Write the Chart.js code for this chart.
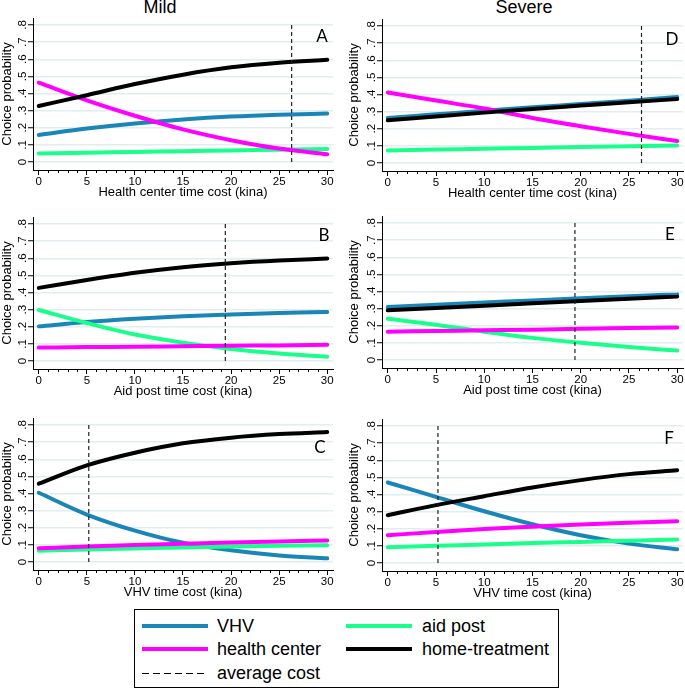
<!DOCTYPE html>
<html>
<head>
<meta charset="utf-8">
<script src="https://cdn.jsdelivr.net/npm/chart.js@4.4.0/dist/chart.umd.min.js"></script>
<style>
  html, body { margin: 0; padding: 0; background: #fff; }
  #wrap { position: relative; width: 685px; height: 690px; overflow: hidden; font-family: 'Liberation Sans', Arial, sans-serif; color: #000; }
  canvas { position: absolute; }
  .col-title { position: absolute; top: -2px; font-size: 18px; line-height: 18px; transform: translateX(-50%); white-space: nowrap; }
  .letter { position: absolute; font-family: Lato, 'Open Sans', sans-serif; font-size: 17px; line-height: 17px; transform: translate(-50%, -50%); }
  #legend { position: absolute; left: 134px; top: 609px; width: 425px; height: 79px; border: 1px solid #000; box-sizing: border-box; }
  #legend .sample { position: absolute; width: 66px; height: 0; }
  #legend .label { position: absolute; font-size: 18px; line-height: 18px; white-space: nowrap; }
</style>
</head>
<body>
<div id="wrap">
  <div class="col-title" style="left:160px">Mild</div>
  <div class="col-title" style="left:524px">Severe</div>
  <canvas id="pA" width="340" height="200" style="left:0;top:0"></canvas>
  <canvas id="pB" width="340" height="200" style="left:0;top:199px"></canvas>
  <canvas id="pC" width="340" height="200" style="left:0;top:400px"></canvas>
  <canvas id="pD" width="345" height="200" style="left:340px;top:1px"></canvas>
  <canvas id="pE" width="345" height="200" style="left:340px;top:198px"></canvas>
  <canvas id="pF" width="345" height="200" style="left:340px;top:401px"></canvas>
  <div id="letters"></div>
  <div id="legend"></div>
</div>
<script>
// ---- data ----
const costSteps = [0, 5, 10, 15, 20, 25, 30];
const xTickValues = [0, 5, 10, 15, 20, 25, 30];
const yTickValues = [0, 0.1, 0.2, 0.3, 0.4, 0.5, 0.6, 0.7, 0.8];
const yTickLabels = ['0', '.1', '.2', '.3', '.4', '.5', '.6', '.7', '.8'];

const seriesNames = ['VHV', 'aid post', 'health center', 'home-treatment'];
const seriesColors = ['#1a86b8', '#1aff8c', '#ff00ff', '#000000'];

// A: mild, health center cost
const vhvA  = [0.158, 0.195, 0.225, 0.248, 0.265, 0.276, 0.283];
const aidA  = [0.049, 0.054, 0.058, 0.063, 0.067, 0.072, 0.076];
const hcA   = [0.463, 0.360, 0.270, 0.190, 0.127, 0.078, 0.045];
const homeA = [0.327, 0.390, 0.455, 0.510, 0.553, 0.580, 0.597];
// B: mild, aid post cost
const vhvB  = [0.202, 0.227, 0.246, 0.261, 0.272, 0.280, 0.286];
const aidB  = [0.298, 0.222, 0.155, 0.107, 0.070, 0.044, 0.025];
const hcB   = [0.078, 0.081, 0.083, 0.086, 0.089, 0.091, 0.094];
const homeB = [0.427, 0.473, 0.515, 0.548, 0.571, 0.587, 0.598];
// C: mild, VHV cost
const vhvC  = [0.404, 0.277, 0.183, 0.112, 0.068, 0.038, 0.021];
const aidC  = [0.066, 0.073, 0.079, 0.085, 0.090, 0.094, 0.098];
const hcC   = [0.080, 0.090, 0.099, 0.107, 0.114, 0.120, 0.125];
const homeC = [0.457, 0.564, 0.638, 0.693, 0.726, 0.747, 0.759];
// D: severe, health center cost
const vhvD  = [0.263, 0.284, 0.305, 0.325, 0.344, 0.364, 0.385];
const aidD  = [0.073, 0.078, 0.083, 0.088, 0.093, 0.098, 0.102];
const hcD   = [0.412, 0.365, 0.318, 0.263, 0.215, 0.170, 0.128];
const homeD = [0.249, 0.272, 0.294, 0.315, 0.335, 0.355, 0.373];
// E: severe, aid post cost
const vhvE  = [0.310, 0.322, 0.335, 0.348, 0.360, 0.372, 0.384];
const aidE  = [0.241, 0.206, 0.165, 0.129, 0.100, 0.075, 0.055];
const hcE   = [0.165, 0.169, 0.173, 0.177, 0.182, 0.186, 0.190];
const homeE = [0.290, 0.303, 0.317, 0.331, 0.345, 0.358, 0.371];
// F: severe, VHV cost
const vhvF  = [0.470, 0.386, 0.302, 0.226, 0.162, 0.113, 0.080];
const aidF  = [0.092, 0.100, 0.108, 0.116, 0.123, 0.130, 0.137];
const hcF   = [0.162, 0.181, 0.198, 0.212, 0.225, 0.235, 0.244];
const homeF = [0.279, 0.338, 0.390, 0.441, 0.484, 0.519, 0.542];

const averageCosts = [26.3, 19.4, 5.2]; // health center, aid post, VHV
const xTitles = ['Health center time cost (kina)', 'Aid post time cost (kina)', 'VHV time cost (kina)'];
const panelLetters = ['A', 'B', 'C', 'D', 'E', 'F'];

// ---- layout ----
const letterPos = [[322, 35], [324, 234], [320, 446], [672, 38], [670, 233], [669, 437]];

const panels = [
  { id: 'pA', series: [vhvA, aidA, hcA, homeA], row: 0, col: 0 },
  { id: 'pB', series: [vhvB, aidB, hcB, homeB], row: 1, col: 0 },
  { id: 'pC', series: [vhvC, aidC, hcC, homeC], row: 2, col: 0 },
  { id: 'pD', series: [vhvD, aidD, hcD, homeD], row: 0, col: 1 },
  { id: 'pE', series: [vhvE, aidE, hcE, homeE], row: 1, col: 1 },
  { id: 'pF', series: [vhvF, aidF, hcF, homeF], row: 2, col: 1 }
];

const FONT = "'Liberation Sans', Arial, sans-serif";
Chart.defaults.font.family = FONT;
Chart.defaults.color = '#000';

// minor x ticks + rotated y tick labels (Stata style)
const stataAxes = {
  id: 'stataAxes',
  afterDraw(chart) {
    const { ctx } = chart;
    const xs = chart.scales.x, ys = chart.scales.y;
    ctx.save();
    ctx.strokeStyle = '#000';
    ctx.lineWidth = 1;
    for (let v = 0; v <= 30; v++) {
      if (v % 5 === 0) continue;
      const px = Math.round(xs.getPixelForValue(v)) + 0.5;
      ctx.beginPath();
      ctx.moveTo(px, xs.top);
      ctx.lineTo(px, xs.top + 3);
      ctx.stroke();
    }
    ctx.fillStyle = '#000';
    ctx.font = '11.5px ' + FONT;
    ctx.textAlign = 'center';
    ctx.textBaseline = 'middle';
    yTickValues.forEach((v, i) => {
      const py = ys.getPixelForValue(v);
      ctx.save();
      ctx.translate(ys.right - 10, py);
      ctx.rotate(-Math.PI / 2);
      ctx.fillText(yTickLabels[i], 0, 0);
      ctx.restore();
    });
    ctx.restore();
  }
};

panels.forEach(p => {
  const datasets = p.series.map((vals, i) => ({
    label: seriesNames[i],
    data: vals.map((y, j) => ({ x: costSteps[j], y })),
    borderColor: seriesColors[i],
    borderWidth: 4,
    borderCapStyle: 'round',
    pointRadius: 0,
    cubicInterpolationMode: 'monotone',
    order: 10 - i
  }));
  const avg = averageCosts[p.row];
  datasets.push({
    label: 'average cost',
    data: [{ x: avg, y: 0 }, { x: avg, y: 0.8 }],
    borderColor: '#222',
    borderWidth: 1.2,
    borderDash: [4, 3],
    pointRadius: 0,
    order: 1
  });

  const leftPad = p.col === 0 ? 0 : 7;
  const yWidth = p.col === 0 ? 33 : 35;
  const rightPad = p.col === 0 ? 7 : 2;

  new Chart(document.getElementById(p.id), {
    type: 'line',
    data: { datasets },
    plugins: [stataAxes],
    options: {
      responsive: false,
      animation: false,
      events: [],
      layout: { autoPadding: false, padding: { left: leftPad, right: rightPad, top: 18, bottom: 0 } },
      plugins: { legend: { display: false }, tooltip: { enabled: false } },
      scales: {
        x: {
          type: 'linear',
          min: -0.6,
          max: 30.6,
          afterBuildTicks: s => { s.ticks = xTickValues.map(v => ({ value: v })); },
          afterFit: s => { s.height = 30; },
          grid: { drawOnChartArea: false, color: '#000', tickLength: 5, lineWidth: 1 },
          border: { display: true, color: '#000', width: 1 },
          ticks: { font: { size: 11.5 }, padding: 0, maxRotation: 0, autoSkip: false },
          title: { display: true, text: xTitles[p.row], font: { size: 13 }, padding: { top: 0, bottom: 0 } }
        },
        y: {
          type: 'linear',
          min: -0.047,
          max: 0.841,
          afterBuildTicks: s => { s.ticks = yTickValues.map(v => ({ value: v })); },
          afterFit: s => { s.width = yWidth; },
          grid: { color: '#e2edf0', lineWidth: 1.5, tickLength: 5, tickColor: '#000', tickWidth: 1 },
          border: { display: true, color: '#000', width: 1 },
          ticks: { display: false },
          title: { display: true, text: 'Choice probability', font: { size: 13 }, padding: { top: 0, bottom: 0 } }
        }
      }
    }
  });
});

// panel letters
const lettersEl = document.getElementById('letters');
panelLetters.forEach((t, i) => {
  const d = document.createElement('div');
  d.className = 'letter';
  d.style.left = letterPos[i][0] + 'px';
  d.style.top = letterPos[i][1] + 'px';
  d.textContent = t;
  lettersEl.appendChild(d);
});

// legend
const legendItems = [
  { text: 'VHV', color: seriesColors[0], col: 0, row: 0 },
  { text: 'aid post', color: seriesColors[1], col: 1, row: 0 },
  { text: 'health center', color: seriesColors[2], col: 0, row: 1 },
  { text: 'home-treatment', color: seriesColors[3], col: 1, row: 1 },
  { text: 'average cost', color: '#000', col: 0, row: 2, dashed: true }
];
const legendEl = document.getElementById('legend');
const rowY = [16, 39, 63];
const sampleX = [7, 211];
const textX = [82, 287];
legendItems.forEach(it => {
  const s = document.createElement('div');
  s.className = 'sample';
  s.style.left = sampleX[it.col] + 'px';
  if (it.dashed) {
    s.style.top = rowY[it.row] + 'px';
    s.style.height = '1px';
    s.style.background = 'repeating-linear-gradient(90deg,#000 0 7px,transparent 7px 11px)';
  } else {
    s.style.top = (rowY[it.row] - 2) + 'px';
    s.style.height = '4px';
    s.style.background = it.color;
  }
  legendEl.appendChild(s);
  const l = document.createElement('div');
  l.className = 'label';
  l.style.left = textX[it.col] + 'px';
  l.style.top = (rowY[it.row] - 9) + 'px';
  l.textContent = it.text;
  legendEl.appendChild(l);
});
</script>
</body>
</html>
